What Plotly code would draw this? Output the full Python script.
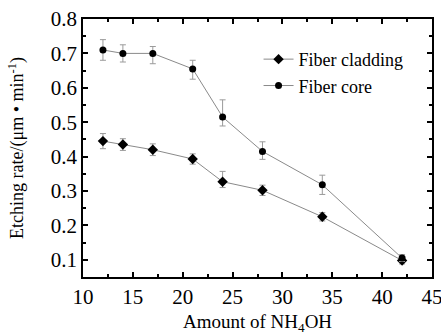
import plotly.graph_objects as go

x_vals = [12, 14, 17, 21, 24, 28, 34, 42]
core = [0.710, 0.700, 0.700, 0.655, 0.515, 0.415, 0.318, 0.105]
core_err_plus = [0.030, 0.025, 0.020, 0.025, 0.050, 0.028, 0.028, 0.010]
core_err_minus = [0.030, 0.025, 0.030, 0.030, 0.026, 0.023, 0.028, 0.010]
clad = [0.445, 0.435, 0.420, 0.393, 0.327, 0.302, 0.225, 0.098]
clad_err_plus = [0.022, 0.017, 0.017, 0.015, 0.030, 0.015, 0.012, 0.010]
clad_err_minus = [0.022, 0.017, 0.017, 0.015, 0.017, 0.015, 0.012, 0.010]

font = "Liberation Serif"
fig = go.Figure()
fig.add_trace(go.Scatter(
    x=x_vals, y=clad, name="Fiber cladding", mode="lines+markers",
    line=dict(color="#8a8a8a", width=1),
    marker=dict(symbol="diamond", size=8, color="black"),
    error_y=dict(type="data", array=clad_err_plus, arrayminus=clad_err_minus,
                 color="#9a9a9a", thickness=1, width=3),
))
fig.add_trace(go.Scatter(
    x=x_vals, y=core, name="Fiber core", mode="lines+markers",
    line=dict(color="#8a8a8a", width=1),
    marker=dict(symbol="circle", size=7, color="black"),
    error_y=dict(type="data", array=core_err_plus, arrayminus=core_err_minus,
                 color="#9a9a9a", thickness=1, width=3),
))

axis_common = dict(
    showline=True, linecolor="black", linewidth=1.5, mirror="ticks",
    ticks="inside", ticklen=5, tickwidth=1.5, tickcolor="black",
    showgrid=False, zeroline=False, ticklabeloverflow="allow",
    tickfont=dict(family=font, size=21, color="black"),
)
fig.update_xaxes(range=[10, 45], tick0=10, dtick=5,
                 minor=dict(dtick=2.5, ticks="inside", ticklen=3, tickcolor="black", tickwidth=1.5),
                 title=dict(text="Amount of NH<sub>4</sub>OH", font=dict(family=font, size=19, color="black"), standoff=8),
                 **axis_common)
fig.update_yaxes(range=[0.05, 0.8], tick0=0.1, dtick=0.1, tickformat=".1f",
                 minor=dict(dtick=0.05, tick0=0.05, ticks="inside", ticklen=3, tickcolor="black", tickwidth=1.5),
                 title=dict(text="Etching rate/(μm • min<sup>-1</sup>)", font=dict(family=font, size=18, color="black"), standoff=22),
                 **axis_common)
fig.update_layout(
    width=441, height=335,
    font=dict(family=font, size=18, color="black"),
    margin=dict(l=83, r=9, t=19, b=58, autoexpand=False),
    plot_bgcolor="white", paper_bgcolor="white",
    legend=dict(x=0.503, y=0.915, xanchor="left", yanchor="top",
                font=dict(family=font, size=18, color="black"),
                bgcolor="rgba(0,0,0,0)", tracegroupgap=0, itemwidth=30),
    showlegend=True,
)
fig.write_html("out.html",
               config={"displayModeBar": False},
               post_script="document.body.style.margin='0';document.body.style.overflow='hidden';")
